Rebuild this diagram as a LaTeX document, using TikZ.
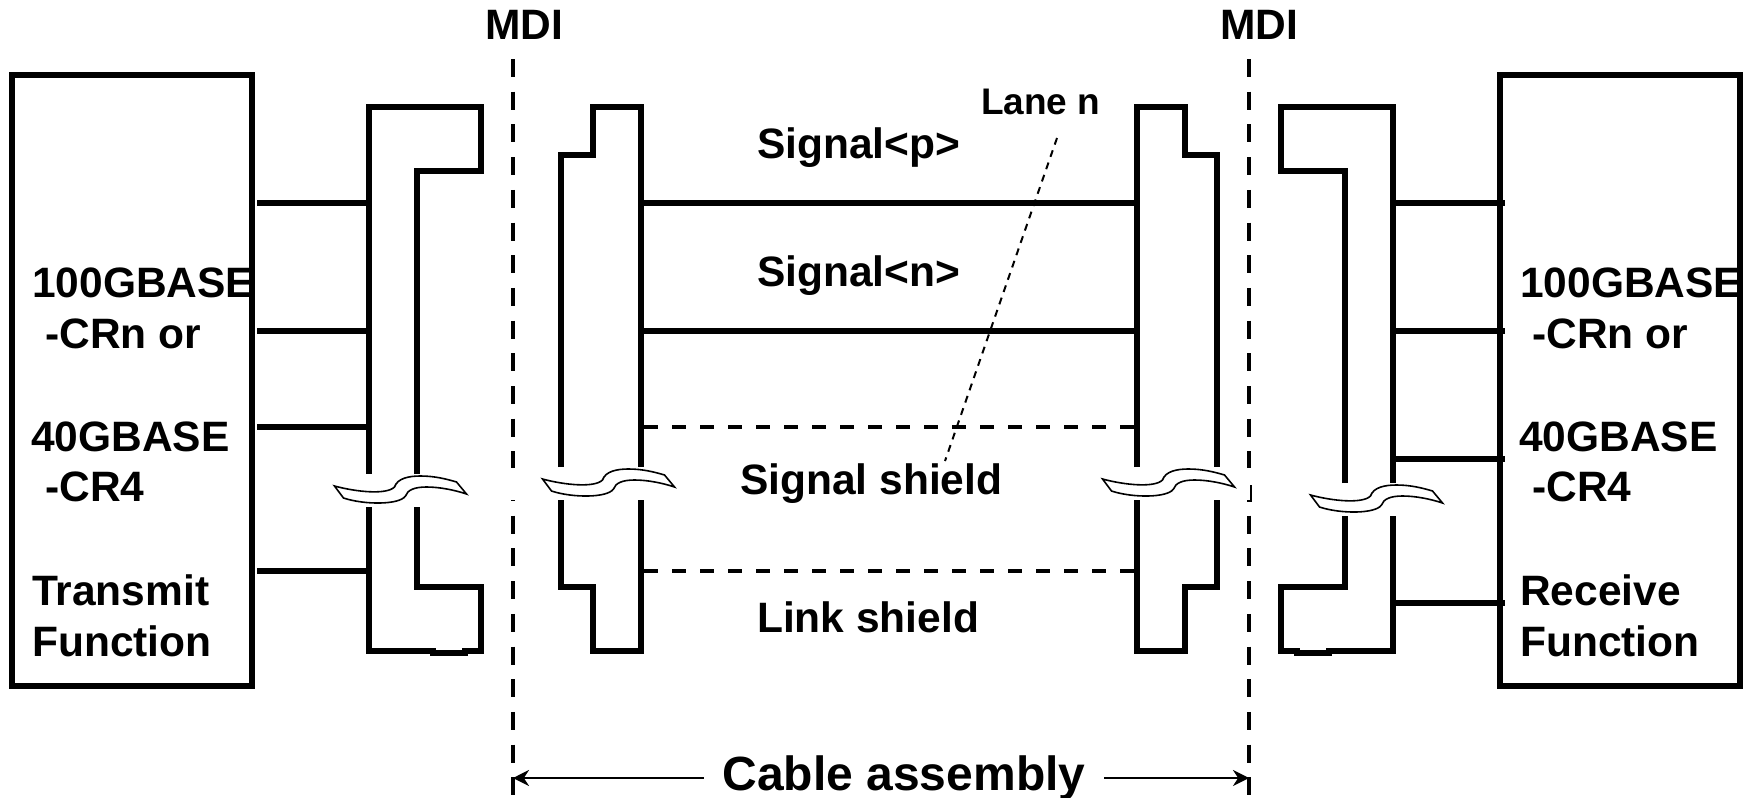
\documentclass[tikz,border=0pt]{standalone}
\usepackage{fontspec}
\setmainfont{Liberation Sans}
\usetikzlibrary{arrows.meta}
\tikzset{
lbl/.style={anchor=base west,inner sep=0,font=\fontsize{42.5}{42.5}\selectfont\bfseries},
wire/.style={line width=6pt},
conn/.style={line width=5.5pt,line join=miter},
shieldwire/.style={line width=4.5pt,dash pattern=on 14pt off 14pt},
mdi/.style={line width=4.5pt,dash pattern=on 18pt off 14.7pt},
dim/.style={line width=2.5pt,-{Stealth[length=16pt,width=16pt]}},
brk/.pic={\draw[line width=1.6pt,fill=white] (0,0) .. controls (22,6) and (52,9) .. (60,1) .. controls (63,-8) and (75,-10) .. (86,-10) .. controls (100,-10) and (112,-7) .. (122,-4) -- (132,8) .. controls (120,4) and (105,1) .. (92,1) .. controls (80,1) and (73,4) .. (71,10) .. controls (65,19) and (30,19) .. (9,12) -- cycle;}
}
\begin{document}
\begin{tikzpicture}[x=1pt,y=-1pt]
\useasboundingbox (0,0) rectangle (1754,798);
% end boxes
\draw[line width=6pt] (12,75) rectangle (252,685.5);
\draw[line width=6pt] (1500,75) rectangle (1740,685.5);
% MDI lines
\draw[mdi] (513,59) -- (513,468);
\draw[mdi,dash phase=17pt] (513,500) -- (513,798);
\draw[mdi] (1249,59) -- (1249,468);
\draw[mdi,dash phase=17pt] (1249,500) -- (1249,798);
\draw[line width=2pt] (1251,485) -- (1251,501) -- (1247,501);
% left plug
\draw[conn] (417,474)--(417,171)--(481,171)--(481,107)--(369,107)--(369,474);
\draw[conn] (417,507)--(417,587)--(481,587)--(481,651)--(465,651)--(465,653)--(433,653)--(433,651)--(369,651)--(369,507);
% left socket
\draw[conn] (561,467)--(561,155)--(593,155)--(593,107)--(641,107)--(641,467);
\draw[conn] (561,500)--(561,587)--(593,587)--(593,651)--(641,651)--(641,500);
% right socket
\draw[conn] (1137,467)--(1137,107)--(1185,107)--(1185,155)--(1217,155)--(1217,467);
\draw[conn] (1137,500)--(1137,651)--(1185,651)--(1185,587)--(1217,587)--(1217,500);
% right plug
\draw[conn] (1345,483)--(1345,171)--(1281,171)--(1281,107)--(1393,107)--(1393,483);
\draw[conn] (1345,516)--(1345,587)--(1281,587)--(1281,651)--(1297,651)--(1297,653)--(1329,653)--(1329,651)--(1393,651)--(1393,516);
% wires
\foreach \y in {203,331,427,571} \draw[wire] (257,\y)--(369,\y);
\foreach \y in {203,331} \draw[wire] (641,\y)--(1137,\y);
\foreach \y in {427,571} \draw[shieldwire] (644,\y)--(1135,\y);
\foreach \y in {203,331,459,603} \draw[wire] (1393,\y)--(1505,\y);
% breaks
\path (334.5,486) pic{brk};
\path (542.5,479) pic{brk};
\path (1102.5,479) pic{brk};
\path (1310.5,495) pic{brk};
% labels
\node[lbl] (mdiL) at (485,39) {MDI};
\node[lbl] (mdiR) at (1220,39) {MDI};
\node[lbl] (txa) at (32,297) {100GBASE};
\node[lbl] (txb) at (45,348) {-CRn or};
\node[lbl] (txc) at (31,451) {40GBASE};
\node[lbl] (txd) at (45,501) {-CR4};
\node[lbl] (txe) at (32,605) {Transmit};
\node[lbl] (txf) at (32,656) {Function};
\node[lbl] (rxa) at (1520,297) {100GBASE};
\node[lbl] (rxb) at (1532,348) {-CRn or};
\node[lbl] (rxc) at (1519,451) {40GBASE};
\node[lbl] (rxd) at (1532,501) {-CR4};
\node[lbl] (rxe) at (1520,605) {Receive};
\node[lbl] (rxf) at (1520,656) {Function};
\node[lbl] (sigp) at (757,158) {Signal<p>};
\node[lbl] (sign) at (757,286) {Signal<n>};
\node[lbl] (sigs) at (740,494) {Signal shield};
\node[lbl] (link) at (757,632) {Link shield};
\node[lbl,font=\fontsize{37}{37}\selectfont\bfseries] (lane) at (981,114) {Lane n};
\node[lbl,font=\fontsize{48}{48}\selectfont\bfseries,anchor=base,inner xsep=18.5pt] (cable) at (904,790) {Cable assembly};
% lane pointer
\draw[line width=2pt,dash pattern=on 7pt off 6pt] (1057,138)--(945,461);
% cable arrows
\coordinate (endL) at (513,778);
\coordinate (endR) at (1249,778);
\draw[dim] (cable.west |- endL)--(endL);
\draw[dim] (cable.east |- endR)--(endR);
\end{tikzpicture}
\end{document}
